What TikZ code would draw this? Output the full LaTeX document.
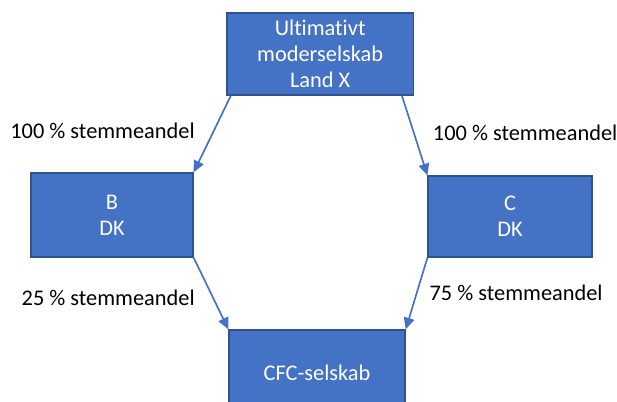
\documentclass[tikz,border=0pt]{standalone}
\usepackage{fontspec}
\setmainfont{Carlito}[Ligatures=NoCommon]
\usetikzlibrary{arrows.meta}
\definecolor{boxblue}{RGB}{68,114,196}
\definecolor{boxedge}{RGB}{47,82,143}

\begin{document}
\begin{tikzpicture}
	[font=\fontsize{12}{14}\selectfont,
	company/.style = {
		draw=boxedge,
		fill=boxblue,
		text=white,
		line width=0.7pt,
		align=center,
		inner sep=0cm
	},
	share/.style = {
		inner sep=0cm
	},
	owns/.style = {
		draw=boxblue,
		line width=0.9pt,
		-{Triangle[length=0.22cm,width=0.2cm]}
	}]
	
	\clip (0,0) rectangle (11.64,7.566);
	
	%Draw nodes
	\node[company, minimum width=3.51cm, minimum height=1.547cm] at (6.04,6.547) (top) {Ultimativt\\moderselskab\\Land X};
	\node[company, minimum width=3.057cm, minimum height=1.585cm] at (2.113,3.509) (b) {B\\DK};
	\node[company, minimum width=3.094cm, minimum height=1.528cm] at (9.623,3.481) (c) {C\\DK};
	\node[company, minimum width=3.321cm, minimum height=1.6cm] at (5.981,0.54) (cfc) {CFC-selskab};
	
	\node[share] at (1.934,5.094) (topb) {100 \% stemmeandel};
	\node[share] at (9.906,5.057) (topc) {100 \% stemmeandel};
	\node[share] at (2.04,1.943) (bcfc) {25 \% stemmeandel};
	\node[share] at (9.736,2.038) (ccfc) {75 \% stemmeandel};
	
	%Draw arrows
	\draw[owns] (top.205) -- (b.north east);
	\draw[owns] (top.333) -- (c.north west);
	\draw[owns] (b.south east) -- (cfc.north west);
	\draw[owns] (c.south west) -- (cfc.north east);
	
\end{tikzpicture}
\end{document}
